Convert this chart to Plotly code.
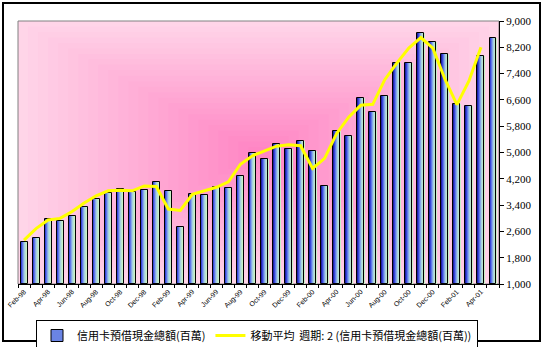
import plotly.graph_objects as go

# ---- data ----
months = ["Feb-98","Mar-98","Apr-98","May-98","Jun-98","Jul-98","Aug-98","Sep-98","Oct-98","Nov-98","Dec-98","Jan-99",
          "Feb-99","Mar-99","Apr-99","May-99","Jun-99","Jul-99","Aug-99","Sep-99","Oct-99","Nov-99","Dec-99","Jan-00",
          "Feb-00","Mar-00","Apr-00","May-00","Jun-00","Jul-00","Aug-00","Sep-00","Oct-00","Nov-00","Dec-00","Jan-01",
          "Feb-01","Mar-01","Apr-01","May-01"]
cash_advance = [2273, 2395, 2975, 2923, 3067, 3342, 3586, 3778, 3891, 3809, 3860, 4105,
                3830, 2731, 3748, 3708, 3962, 3922, 4298, 4990, 4807, 5270, 5113, 5357,
                5052, 3983, 5662, 5498, 6649, 6221, 6710, 7718, 7718, 8634, 8359, 7983,
                6487, 6426, 7922, 8481]
period = 2
bar_name = "信用卡預借現金總額(百萬)"
ma_name = "移動平均  週期: 2 (信用卡預借現金總額(百萬))"
y_ticks = [1000, 1800, 2600, 3400, 4200, 5000, 5800, 6600, 7400, 8200, 9000]

# moving average (shown at the first point of each window, as in the reference)
ma_vals = [sum(cash_advance[i:i + period]) / period for i in range(len(cash_advance) - period + 1)]
xs = list(range(len(months)))

fig = go.Figure()

# gradient bars built from narrow strips
strip_colors = ["#2020A8", "#3848D8", "#6078E8", "#88A8E8", "#A8D0E0", "#B8E4D0", "#C8F0C8"]
bar_w = 0.58
sw = bar_w / len(strip_colors)
for j, c in enumerate(strip_colors):
    fig.add_trace(go.Bar(x=xs, y=[v - 1000 for v in cash_advance], base=1000,
                         width=sw * 1.05, offset=-bar_w / 2 + j * sw,
                         marker=dict(color=c, line=dict(width=0)),
                         showlegend=False, hoverinfo="skip"))
# outline
fig.add_trace(go.Bar(x=xs, y=[v - 1000 for v in cash_advance], base=1000,
                     width=bar_w, offset=-bar_w / 2,
                     marker=dict(color="rgba(0,0,0,0)", line=dict(color="black", width=1)),
                     showlegend=False, name=bar_name))
# legend entry for bars
fig.add_trace(go.Bar(x=[None], y=[None], name=bar_name,
                     marker=dict(color="#6A84E4", line=dict(color="black", width=1))))
# moving average line
fig.add_trace(go.Scatter(x=xs[:len(ma_vals)], y=ma_vals, mode="lines", name=ma_name,
                         line=dict(color="#FFFF00", width=3)))

# background: concentric rectangles (from-center gradient)
N = 24
edge = (255, 216, 234)
center = (255, 134, 196)
shapes = []
for k in range(N):
    f = k / N
    t = (k + 1) / N
    col = tuple(int(round(edge[i] + (center[i] - edge[i]) * t)) for i in range(3))
    shapes.append(dict(type="rect", xref="x domain", yref="y domain",
                       x0=f / 2, x1=1 - f / 2, y0=f / 2, y1=1 - f / 2,
                       fillcolor="rgb(%d,%d,%d)" % col, line=dict(width=0), layer="below"))
shapes.append(dict(type="rect", xref="x domain", yref="y domain", x0=0, x1=1, y0=0, y1=1,
                   line=dict(color="#808080", width=1), fillcolor="rgba(0,0,0,0)", layer="below"))
# outer chart border
W, H = 543, 347
ml, mr, mt, mb = 18, 44, 21, 63
pw, ph = W - ml - mr, H - mt - mb
def px(x): return (x - ml) / pw
def py(y): return (H - mb - y) / ph
shapes.append(dict(type="rect", xref="paper", yref="paper",
                   x0=px(3), x1=px(540), y0=py(341), y1=py(3),
                   line=dict(color="black", width=2), fillcolor="rgba(0,0,0,0)"))

fig.update_layout(
    width=W, height=H,
    margin=dict(l=ml, r=mr, t=mt, b=mb, autoexpand=False),
    paper_bgcolor="white",
    plot_bgcolor="rgb(%d,%d,%d)" % edge,
    barmode="overlay",
    bargap=0,
    shapes=shapes,
    showlegend=True,
    legend=dict(orientation="h", x=px(36), y=py(320), xanchor="left", yanchor="top",
                bgcolor="white", bordercolor="black", borderwidth=1,
                font=dict(family="Noto Sans CJK TC", size=11, color="black"),
                itemwidth=30, tracegroupgap=0, traceorder="normal"),
    xaxis=dict(range=[-0.5, len(months) - 0.5],
               tickmode="array", tickvals=xs[::2], ticktext=months[::2],
               tickangle=-45, tickfont=dict(family="Liberation Sans", size=7, color="black"),
               ticks="", showgrid=False, zeroline=False,
               showline=True, linecolor="black", linewidth=1,
               minor=dict(tickmode="linear", tick0=-0.5, dtick=1, ticks="outside",
                          ticklen=3, tickcolor="black", showgrid=False)),
    yaxis=dict(side="right", range=[1000, 9000], tickmode="array", tickvals=y_ticks,
               tickformat=",", ticks="outside", ticklen=4, tickcolor="black",
               tickfont=dict(family="Liberation Serif", size=11, color="black"),
               showgrid=False, zeroline=False, showline=True, linecolor="black", linewidth=1),
)

fig.write_html("out.html")
